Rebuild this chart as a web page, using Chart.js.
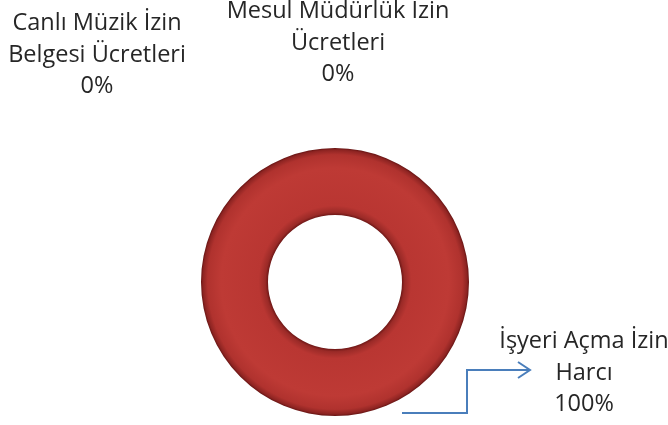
<!DOCTYPE html>
<html>
<head>
<meta charset="utf-8">
<script src="https://cdn.jsdelivr.net/npm/chart.js@4"></script>
<style>
  html, body { margin: 0; padding: 0; background: #fff; }
  #wrap { width: 668px; height: 425px; }
</style>
</head>
<body>
<div id="wrap"><canvas id="donut"></canvas></div>
<script>
// veriler
const kategoriler = ['Canlı Müzik İzin Belgesi Ücretleri', 'Mesul Müdürlük İzin Ücretleri', 'İşyeri Açma İzin Harcı'];
const degerler = [0, 0, 100];
const yuzdeler = ['0%', '0%', '100%'];
// etiket satırları (grafikteki gibi bölünmüş)
const etiketSatirlari = [
  ['Canlı Müzik İzin', 'Belgesi Ücretleri'],
  ['Mesul Müdürlük İzin', 'Ücretleri'],
  ['İşyeri Açma İzin', 'Harcı']
];

const fontAdi = '"Open Sans", "Noto Sans", sans-serif';

// halka için gölgeli kırmızı dolgu (merkez grafik alanından hesaplanır)
function halkaDolgu(ctx) {
  const chart = ctx.chart;
  const a = chart.chartArea;
  if (!a) return '#bd3833';
  const x = (a.left + a.right) / 2, y = (a.top + a.bottom) / 2;
  const r1 = Math.min(a.right - a.left, a.bottom - a.top) / 2;
  const r0 = r1 * 0.5;
  const g = chart.ctx.createRadialGradient(x, y, r0, x, y, r1);
  g.addColorStop(0, '#6e1716');
  g.addColorStop(0.04, '#9a2a27');
  g.addColorStop(0.14, '#b93632');
  g.addColorStop(0.7, '#be3a35');
  g.addColorStop(0.9, '#b0322e');
  g.addColorStop(0.97, '#8e2422');
  g.addColorStop(1, '#661413');
  return g;
}

const etiketPlugin = {
  id: 'etiketler',
  afterDraw(chart) {
    const c = chart.ctx;
    const arc = chart.getDatasetMeta(0).data[2];
    const cx = arc.x, cy = arc.y;
    c.save();
    c.fillStyle = '#262626';
    c.font = '23.5px ' + fontAdi;
    c.textAlign = 'center';
    c.textBaseline = 'alphabetic';
    // konumlar: [x, ilk satır taban çizgisi]
    const yerler = [[97, 30], [338, 18], [584, 348]];
    const aralik = 31.5;
    etiketSatirlari.forEach((satirlar, i) => {
      const [x, y] = yerler[i];
      const hepsi = satirlar.concat([yuzdeler[i]]);
      hepsi.forEach((s, j) => c.fillText(s, x, y + j * aralik));
    });
    // işyeri etiketi için ok çizgisi
    c.strokeStyle = '#4a7ebb';
    c.lineWidth = 2;
    c.beginPath();
    c.moveTo(cx + 67, cy + 131);
    c.lineTo(cx + 132, cy + 131);
    c.lineTo(cx + 132, cy + 88);
    c.lineTo(cx + 195, cy + 88);
    c.stroke();
    c.beginPath();
    c.moveTo(cx + 183, cy + 80);
    c.lineTo(cx + 195, cy + 88);
    c.lineTo(cx + 183, cy + 96);
    c.stroke();
    c.restore();
  }
};

new Chart(document.getElementById('donut'), {
  type: 'doughnut',
  data: {
    labels: kategoriler,
    datasets: [{
      data: degerler,
      backgroundColor: halkaDolgu,
      borderWidth: 0,
      hoverOffset: 0
    }]
  },
  options: {
    responsive: true,
    maintainAspectRatio: false,
    animation: false,
    cutout: '50%',
    layout: { padding: { left: 201, right: 199, top: 148, bottom: 9 } },
    plugins: {
      legend: { display: false },
      tooltip: { enabled: false }
    }
  },
  plugins: [etiketPlugin]
});
</script>
</body>
</html>
